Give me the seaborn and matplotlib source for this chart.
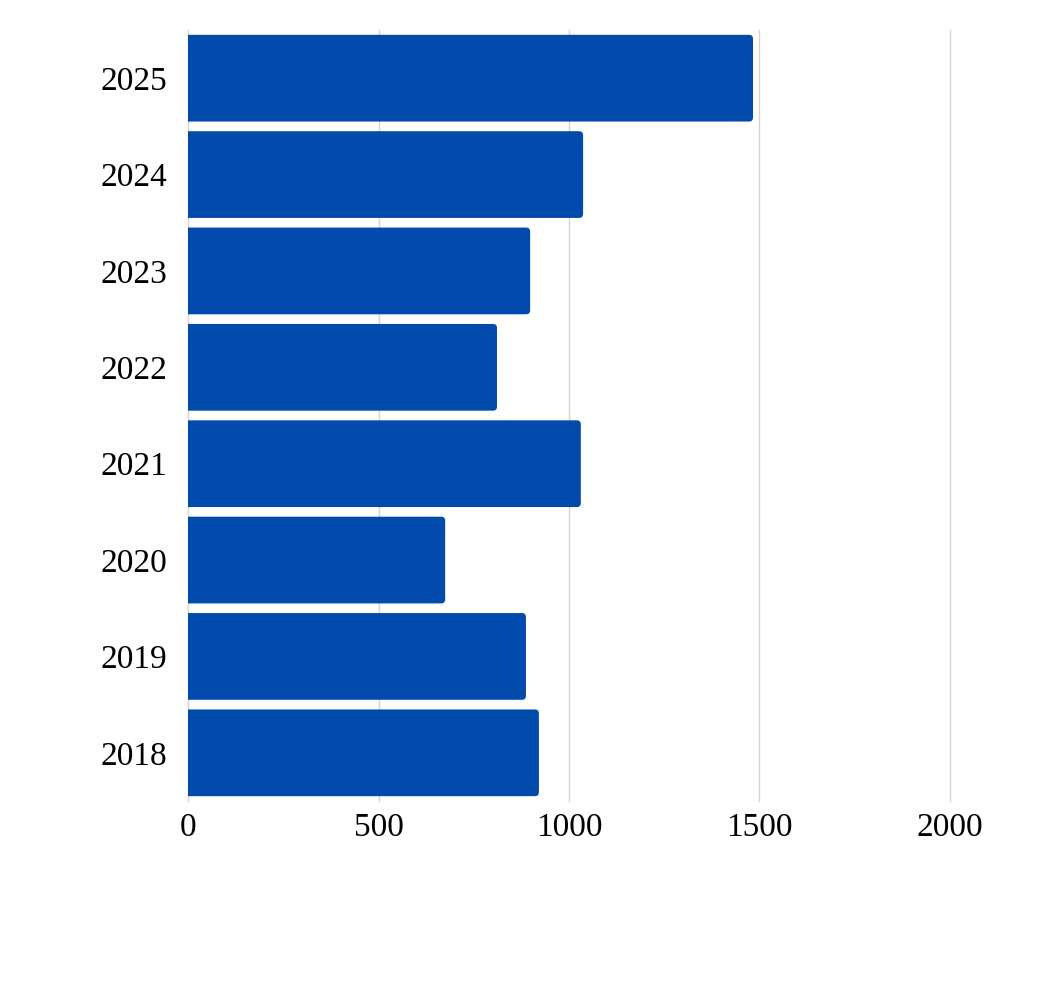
import pandas as pd
import matplotlib.pyplot as plt
import seaborn as sns
from matplotlib.patches import FancyBboxPatch

# data
years = ["2025", "2024", "2023", "2022", "2021", "2020", "2019", "2018"]
values = [1483, 1037, 898, 811, 1031, 675, 887, 921]

df = pd.DataFrame({"Year": years, "Value": values})

sns.set_theme(style="white")
plt.rcParams["font.family"] = ["Liberation Serif", "DejaVu Serif"]

fig = plt.figure(figsize=(10.54, 10), dpi=100)
ax = fig.add_axes([188 / 1054, 199 / 1000, 762 / 1054, 771 / 1000])

bar_color = "#024BAC"
sns.barplot(data=df, x="Value", y="Year", orient="h", color=bar_color,
            width=0.9, saturation=1, ax=ax)

ax.set_xlim(0, 2000)
ax.set_ylim(7.5, -0.5)

# swap bars for rounded ones (left side hidden by the axes clip)
px_x = 2000 / 762
px_y = 8 / 771
for p in list(ax.patches):
    x, y = p.get_x(), p.get_y()
    w, h = p.get_width(), p.get_height()
    p.remove()
    fb = FancyBboxPatch((x - 30, y), w + 30, h,
                        boxstyle="round,pad=0,rounding_size=%f" % (4 * px_x),
                        mutation_aspect=px_y / px_x,
                        facecolor=bar_color, edgecolor="none", zorder=2)
    ax.add_patch(fb)

ax.set_xticks([0, 500, 1000, 1500, 2000])
ax.grid(axis="x", color="#d4d4d4", linewidth=1, zorder=0)
for gl in ax.get_xgridlines():
    gl.set_clip_on(False)
ax.set_axisbelow(True)
for s in ax.spines.values():
    s.set_visible(False)

ax.set_xlabel("")
ax.set_ylabel("")
ax.tick_params(axis="y", length=0, pad=15, labelsize=24, labelcolor="black")
ax.tick_params(axis="x", length=0, pad=8, labelsize=24, labelcolor="black")

fig.savefig("out.png", dpi=100, facecolor="white")
